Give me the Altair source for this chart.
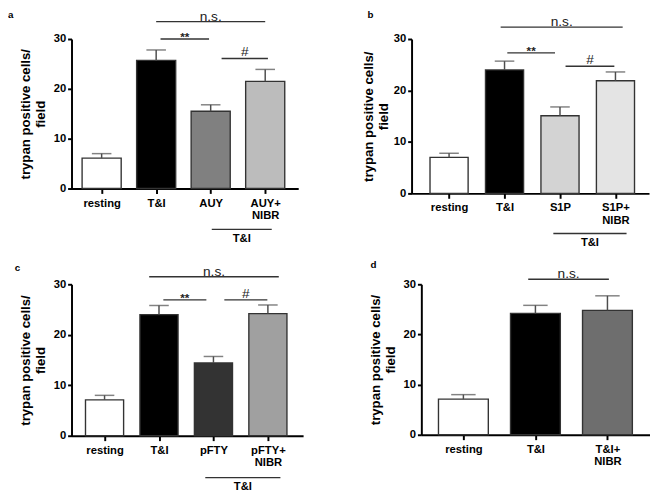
import json
import altair as alt
import pandas as pd

FONT = "Liberation Sans"

# ---------------- data ----------------
a_cats = ["resting", "T&I", "AUY", "AUY+\nNIBR"]
a_mean = [6.1, 25.7, 15.5, 21.5]
a_sem = [0.9, 2.1, 1.3, 2.4]
a_fill = ["#ffffff", "#000000", "#808080", "#bcbcbc"]

b_cats = ["resting", "T&I", "S1P", "S1P+\nNIBR"]
b_mean = [7.0, 24.0, 15.1, 21.9]
b_sem = [0.8, 1.7, 1.7, 1.7]
b_fill = ["#ffffff", "#000000", "#d3d3d3", "#e4e4e4"]

c_cats = ["resting", "T&I", "pFTY", "pFTY+\nNIBR"]
c_mean = [7.1, 24.0, 14.4, 24.2]
c_sem = [0.9, 1.8, 1.3, 1.7]
c_fill = ["#ffffff", "#000000", "#333333", "#a0a0a0"]

d_cats = ["resting", "T&I", "T&I+\nNIBR"]
d_mean = [7.1, 24.2, 24.8]
d_sem = [0.9, 1.6, 2.9]
d_fill = ["#ffffff", "#000000", "#6e6e6e"]

# significance brackets: text, from (category index), to, level (y units)
a_sig_text = ["n.s.", "**", "#"]
a_sig_from = [1.0, 1.08, 2.2]
a_sig_to = [3.0, 1.97, 3.05]
a_sig_y = [33.5, 30.0, 26.1]

b_sig_text = ["n.s.", "**", "#"]
b_sig_from = [0.93, 1.05, 2.1]
b_sig_to = [3.13, 1.91, 2.98]
b_sig_y = [32.3, 27.3, 24.7]

c_sig_text = ["n.s.", "**", "#"]
c_sig_from = [0.82, 1.08, 2.2]
c_sig_to = [3.2, 1.87, 2.99]
c_sig_y = [31.5, 26.9, 26.9]

d_sig_text = ["n.s."]
d_sig_from = [0.9]
d_sig_to = [2.02]
d_sig_y = [31.0]

# treatment group bracket below the axis: label, from, to, level
a_group = ["T&I", 2.02, 3.12, -8.2]
b_group = ["T&I", 1.88, 3.2, -7.8]
c_group = ["T&I", 1.85, 3.23, -8.3]

# ---------------- styling per panel ----------------
SIG_STYLE = {
    "n.s.": dict(fontSize=14, fontWeight="normal", dy=-1),
    "**": dict(fontSize=12, fontWeight="bold", dy=2),
    "#": dict(fontSize=14, fontWeight="normal", dy=-2),
}


def panel(letter, cats, mean, sem, fill, sig_text, sig_from, sig_to, sig_y,
          group, width, height, xdomain, bar_w, cap_w, letter_pos, title_pad):
    df = pd.DataFrame({
        "idx": list(range(len(cats))),
        "mean": mean,
        "top": [m + s for m, s in zip(mean, sem)],
        "fill": fill,
    })
    lines = [c.split("\n") for c in cats]
    label_expr = json.dumps(lines) + "[datum.value]"

    xscale = alt.Scale(domain=xdomain, nice=False, zero=False)
    yscale = alt.Scale(domain=[0, 30], nice=False)
    xaxis = alt.Axis(values=list(range(len(cats))), labelExpr=label_expr,
                     title=None, grid=False, labelLineHeight=12.5,
                     labelPadding=4, tickSize=5)
    yaxis = alt.Axis(values=[0, 10, 20, 30], grid=False,
                     title=["trypan positive cells/", "field"],
                     titleFontSize=13.5, titleFontWeight="bold",
                     titlePadding=title_pad, labelPadding=2, tickSize=4)

    base = alt.Chart(df)
    bars = base.mark_bar(size=bar_w, stroke="#333333", strokeWidth=1.4).encode(
        x=alt.X("idx:Q", scale=xscale, axis=xaxis),
        y=alt.Y("mean:Q", scale=yscale, axis=yaxis),
        fill=alt.Fill("fill:N", scale=None),
    )
    stems = base.mark_rule(color="#4d4d4d", strokeWidth=1.5).encode(
        x="idx:Q", y="mean:Q", y2="top:Q")
    caps = base.mark_tick(color="#4d4d4d", thickness=1.5, size=cap_w,
                          orient="horizontal").encode(x="idx:Q", y="top:Q")

    layers = [bars, stems, caps]

    sig_df = pd.DataFrame({"text": sig_text, "x1": sig_from, "x2": sig_to,
                           "y": sig_y})
    sig_df["xm"] = (sig_df["x1"] + sig_df["x2"]) / 2
    layers.append(alt.Chart(sig_df).mark_rule(color="#333333", strokeWidth=1.4).encode(
        x="x1:Q", x2="x2:Q", y="y:Q"))
    for t in sig_text:
        st = SIG_STYLE[t]
        layers.append(
            alt.Chart(sig_df).transform_filter(alt.datum.text == t)
            .mark_text(font=FONT, color="#222222", baseline="alphabetic", **st)
            .encode(x="xm:Q", y="y:Q", text="text:N"))

    if group is not None:
        gdf = pd.DataFrame({"text": [group[0]], "x1": [group[1]],
                            "x2": [group[2]], "y": [group[3]]})
        gdf["xm"] = (gdf["x1"] + gdf["x2"]) / 2
        layers.append(alt.Chart(gdf).mark_rule(color="#333333", strokeWidth=1.4).encode(
            x="x1:Q", x2="x2:Q", y="y:Q"))
        layers.append(alt.Chart(gdf).mark_text(
            font=FONT, fontWeight="bold", fontSize=11.5, baseline="top", dy=4,
            color="#000000").encode(x="xm:Q", y="y:Q", text="text:N"))

    # panel letter
    layers.append(alt.Chart(pd.DataFrame({"t": [letter]})).mark_text(
        font=FONT, fontWeight="bold", fontSize=10, align="left",
        baseline="middle", color="#000000").encode(
        x=alt.value(letter_pos[0]), y=alt.value(letter_pos[1]), text="t:N"))

    return alt.layer(*layers).properties(width=width, height=height)


pa = panel("a", a_cats, a_mean, a_sem, a_fill, a_sig_text, a_sig_from, a_sig_to,
           a_sig_y, a_group, 232, 153, [-0.463, 3.516], 40, 20, (-65, -24), 6)
pb = panel("b", b_cats, b_mean, b_sem, b_fill, b_sig_text, b_sig_from, b_sig_to,
           b_sig_y, b_group, 243, 158, [-0.588, 3.517], 39, 20, (-45, -24), 3)
pc = panel("c", c_cats, c_mean, c_sem, c_fill, c_sig_text, c_sig_from, c_sig_to,
           c_sig_y, c_group, 237, 155, [-0.517, 3.557], 39, 20, (-58, -17), 6)
pd_ = panel("d", d_cats, d_mean, d_sem, d_fill, d_sig_text, d_sig_from, d_sig_to,
            d_sig_y, None, 234, 154, [-0.516, 2.523], 51, 25, (-52, -20), 6)

chart = alt.vconcat(
    alt.hconcat(pa, pb, spacing=64),
    alt.hconcat(pc, pd_, spacing=66),
    spacing=11,
).configure(
    font=FONT,
    padding={"top": -4, "left": 0, "right": 0, "bottom": 0},
).configure_view(stroke=None).configure_axis(
    domainColor="#000000", domainWidth=2, tickColor="#000000", tickWidth=2,
    labelFont=FONT, labelFontWeight="bold", labelFontSize=11.5,
    labelColor="#000000", titleFont=FONT, titleColor="#000000",
)

chart.save("out.html", embed_options={"renderer": "svg", "actions": False})
